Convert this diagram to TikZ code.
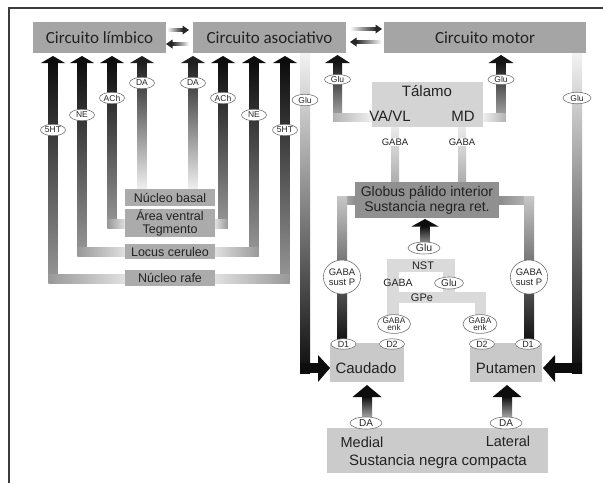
\documentclass[tikz,border=0pt]{standalone}
\usepackage{fontspec}
\setmainfont{Liberation Sans}
\newfontfamily\calib{Carlito}
\usetikzlibrary{shapes.geometric}
\definecolor{gA}{HTML}{A5A5A5}
\definecolor{gN}{HTML}{ABABAB}
\definecolor{gT}{HTML}{D4D4D4}
\definecolor{gG}{HTML}{909090}
\definecolor{gC}{HTML}{C9C9C9}
\definecolor{gS}{HTML}{CBCBCB}
\definecolor{nstc}{HTML}{DADADA}
\definecolor{txt}{HTML}{222222}
\definecolor{frm}{HTML}{3C3C3C}
% x, ytip, yend, topcol, botcol, halfshaft, halfhead, headlen
\newcommand{\UpArr}[8]{%
  \shade[top color=#4,bottom color=#5] ({#1-#6},{#2+#8-0.5}) rectangle ({#1+#6},#3);
  \fill[#4] ({#1-#7},{#2+#8}) -- (#1,#2) -- ({#1+#7},{#2+#8}) -- cycle;}
% small horizontal arrows: xleft, xright, y
\newcommand{\RArr}[3]{%
  \shade[left color=white,right color=black!85] (#1,{#3-1.8}) rectangle ({#2-6},{#3+1.8});
  \fill[black!85] ({#2-6.5},{#3-4.5}) -- (#2,#3) -- ({#2-6.5},{#3+4.5}) -- cycle;}
\newcommand{\LArr}[3]{%
  \shade[left color=black!85,right color=white] ({#1+6},{#3-1.8}) rectangle (#2,{#3+1.8});
  \fill[black!85] ({#1+6.5},{#3-4.5}) -- (#1,#3) -- ({#1+6.5},{#3+4.5}) -- cycle;}
\begin{document}
\begin{tikzpicture}[x=1pt,y=-1pt,
  circ/.style={rectangle, fill=gA, minimum height=31, inner sep=0, text=txt,
    font=\calib\fontsize{17}{19}\selectfont},
  nuc/.style={rectangle, fill=gN, minimum width=90, inner sep=0, text=txt, align=center,
    font=\fontsize{12.5}{12.5}\selectfont},
  lab/.style={ellipse, draw=black!55, line width=0.6pt, fill=white, inner sep=0.2pt,
    minimum width=25, minimum height=11.5, text=black!85, font=\fontsize{8.5}{9}\selectfont},
  dlab/.style={lab, minimum width=25, minimum height=10.5, font=\fontsize{9}{9}\selectfont},
  big/.style={lab, minimum width=32, minimum height=12, font=\fontsize{10.5}{11}\selectfont},
  two/.style={lab, align=center, inner sep=0pt},
  plain/.style={inner sep=0.5pt, text=txt, font=\fontsize{15}{16}\selectfont},
  small/.style={inner sep=1pt, text=txt, font=\fontsize{10.5}{11}\selectfont}
]
\useasboundingbox (0,0) rectangle (603,483);
\fill[white] (0,0) rectangle (603,483);
\draw[line width=2pt, frm] (9,483) -- (9,8) -- (603,8);

% ---- neuromodulator arrows (limbic / associative) ----
\UpArr{53}{56}{283.5}{black!95}{black!40}{4.5}{12}{7}
\UpArr{82}{56}{256}{black!95}{black!40}{4.5}{12}{7}
\UpArr{112}{56}{228}{black!95}{black!40}{4.5}{12}{7}
\UpArr{142}{56}{189}{black!88}{black!6}{4.5}{12}{7}
\UpArr{193}{56}{189}{black!88}{black!6}{4.5}{12}{7}
\UpArr{223}{56}{228}{black!95}{black!40}{4.5}{12}{7}
\UpArr{254}{56}{256}{black!95}{black!40}{4.5}{12}{7}
\UpArr{285}{56}{283.5}{black!95}{black!40}{4.5}{12}{7}
\shade[left color=black!40,right color=black!12] (48.5,274.5) rectangle (125,283.5);
\shade[left color=black!40,right color=black!12] (77.5,247) rectangle (125,256);
\shade[left color=black!40,right color=black!12] (107.5,219) rectangle (125,228);
\shade[left color=black!12,right color=black!40] (215,219) rectangle (227.5,228);
\shade[left color=black!12,right color=black!40] (215,247) rectangle (258.5,256);
\shade[left color=black!12,right color=black!40] (215,274.5) rectangle (289.5,283.5);

% ---- Glu descending to caudado / putamen ----
\shade[top color=black!5, bottom color=black!95] (300,53) rectangle (310,373);
\fill[black!95] (300,363) rectangle (318.5,373);
\fill[black!95] (318,355) -- (330,368) -- (318,382) -- cycle;
\shade[top color=black!5, bottom color=black!95] (572,53) rectangle (582,373);
\fill[black!95] (554.5,363) rectangle (582,373);
\fill[black!95] (555,355) -- (543,368) -- (555,382) -- cycle;

% ---- thalamus Glu ----
\UpArr{337.5}{55}{121}{black!92}{black!30}{4.5}{12.5}{8}
\shade[left color=black!30, right color=black!6] (333,113) rectangle (372,121);
\UpArr{501}{55}{121}{black!92}{black!30}{4.5}{12.5}{8}
\shade[left color=black!6, right color=black!30] (483,113) rectangle (505.5,121);

% ---- GABA thalamus <- GPi ----
\shade[top color=black!8, bottom color=black!32] (391,127) rectangle (399,182);
\shade[top color=black!8, bottom color=black!32] (458,127) rectangle (466,182);

% ---- GPi side legs ----
\shade[left color=black!25, right color=black!45] (337,196) rectangle (355,204);
\shade[top color=black!22, bottom color=black!92] (337,196) rectangle (347,339);
\shade[left color=black!45, right color=black!25] (499,196) rectangle (534,204);
\shade[top color=black!22, bottom color=black!92] (524,196) rectangle (534,339);

% ---- Glu NST -> GPi ----
\UpArr{425}{219}{246}{black!95}{black!35}{4.5}{13.5}{7.5}

% ---- NST / GPe band ----
\fill[nstc] (387,259) rectangle (455,272);
\fill[nstc] (387,259) rectangle (399,316);
\fill[nstc] (443,259) rectangle (455,293);
\fill[nstc] (387,292) rectangle (486,303);
\fill[nstc] (475,292) rectangle (486,316);

% ---- DA from SNc ----
\UpArr{367}{385}{419}{black!95}{black!30}{5}{14.5}{12}
\UpArr{507}{385}{419}{black!95}{black!30}{5}{14.5}{12}

% ---- boxes ----
\node[circ, minimum width=133] (limb) at (99.5,37.5) {Circuito límbico};
\node[circ, minimum width=153] (asoc) at (269.5,37.5) {Circuito asociativo};
\node[circ, minimum width=202] (motor) at (485,37.5) {Circuito motor};
\RArr{167}{189}{30}
\LArr{166}{189}{44}
\RArr{350}{382}{29}
\LArr{350}{382}{42}

\node[nuc, minimum height=17] (nb) at (170,197.5) {Núcleo basal};
\node[nuc, minimum height=28] (avt) at (170,223) {Área ventral\\Tegmento};
\node[nuc, minimum height=15.3] (lc) at (170,251.7) {Locus ceruleo};
\node[nuc, minimum height=16] (rafe) at (170,278) {Núcleo rafe};

\node[fill=gT, minimum width=111, minimum height=45, inner sep=0] (tal) at (427.5,104.5) {};
\node[plain] (taltxt) at (427,91) {Tálamo};
\node[plain] (vavl) at (390,116) {VA/VL};
\node[plain] (md) at (463,116) {MD};

\node[fill=gG, minimum width=144, minimum height=36, inner sep=0, align=center, text=txt,
  font=\fontsize{14}{15}\selectfont] (gpi) at (427,200) {Globus pálido interior\\Sustancia negra ret.};

\node[fill=gC, minimum width=74, minimum height=39, inner sep=0] (caud) at (367,362.5) {};
\node[plain] (caudtxt) at (366,368) {Caudado};
\node[fill=gC, minimum width=72, minimum height=39, inner sep=0] (put) at (506,362.5) {};
\node[plain] (puttxt) at (506,368) {Putamen};

\node[fill=gS, minimum width=221, minimum height=45, inner sep=0] (snc) at (437.5,450.5) {};
\node[plain, font=\fontsize{14.5}{15}\selectfont] (medial) at (362,442) {Medial};
\node[plain, font=\fontsize{14.5}{15}\selectfont] (lateral) at (508,441) {Lateral};
\node[plain] (snctxt) at (438,462) {Sustancia negra compacta};

% ---- labels ----
\node[lab] (l5ht) at (53,130) {5HT};
\node[lab] (lne) at (82,115) {NE};
\node[lab] (lach) at (112,98) {ACh};
\node[lab] (lda) at (142,83) {DA};
\node[lab] (ada) at (193,83) {DA};
\node[lab] (aach) at (223,98) {ACh};
\node[lab] (ane) at (254,115) {NE};
\node[lab] (a5ht) at (285,130) {5HT};
\node[lab, minimum width=26] (aglu) at (305,100) {Glu};
\node[lab, minimum width=26, minimum height=10] (tglu1) at (337.5,79.5) {Glu};
\node[lab, minimum width=26, minimum height=10] (tglu2) at (501,79.5) {Glu};
\node[lab, minimum width=28] (mglu) at (577,98) {Glu};

\node[small, fill=white, font=\fontsize{9.5}{10}\selectfont] (gaba1) at (395,142) {GABA};
\node[small, fill=white, font=\fontsize{9.5}{10}\selectfont] (gaba2) at (462,142) {GABA};

\node[two, minimum width=36, minimum height=34, font=\fontsize{9.5}{10}\selectfont] (gsp1) at (342,277) {GABA\\sust P};
\node[two, minimum width=36, minimum height=34, font=\fontsize{9.5}{10}\selectfont] (gsp2) at (529,277) {GABA\\sust P};

\node[big] (nglu) at (424,248) {Glu};
\node[small, font=\fontsize{11}{12}\selectfont] (nst) at (423,265.5) {NST};
\node[small] (ngaba) at (398,283) {GABA};
\node[big, minimum width=29, font=\fontsize{10}{11}\selectfont] (nglu2) at (449,283) {Glu};
\node[small, font=\fontsize{11}{12}\selectfont] (gpe) at (422,298) {GPe};

\node[two, minimum width=33, minimum height=18, font=\fontsize{8.2}{7.5}\selectfont] (enk1) at (394,324) {GABA\\enk};
\node[two, minimum width=34, minimum height=18, font=\fontsize{8.2}{7.5}\selectfont] (enk2) at (480,324) {GABA\\enk};

\node[dlab] (cd1) at (343.5,344) {D1};
\node[dlab] (cd2) at (392,344) {D2};
\node[dlab] (pd2) at (482,344) {D2};
\node[dlab] (pd1) at (528,344) {D1};

\node[big, font=\fontsize{10}{11}\selectfont] (sda1) at (366,423) {DA};
\node[big, font=\fontsize{10}{11}\selectfont] (sda2) at (506,423) {DA};
\end{tikzpicture}
\end{document}
